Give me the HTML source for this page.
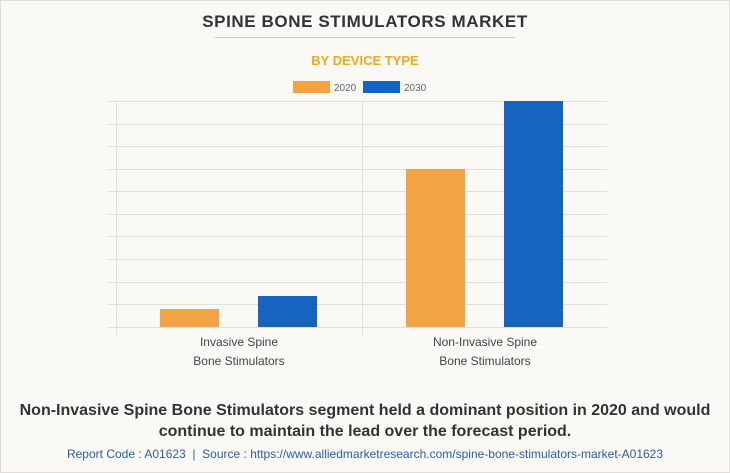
<!DOCTYPE html>
<html><head><style>
body{margin:0;background:#fff;}
.w{position:relative;width:728px;height:471px;border:1px solid #ddd;background:#faf9f5;font-family:"Liberation Sans",sans-serif;overflow:hidden}
.t{position:absolute;left:0;width:728px;text-align:center}
</style></head><body><div class="w">
<div class="t" style="top:11px;font-size:17px;font-weight:bold;color:#333;letter-spacing:0.6px">SPINE BONE STIMULATORS MARKET</div>
<div style="position:absolute;left:214px;top:36px;width:300px;height:1px;background:#ccc"></div>
<div class="t" style="top:52px;font-size:13px;font-weight:bold;color:#f5a623">BY DEVICE TYPE</div>
<svg style="position:absolute;left:-1px;top:-1px" width="730" height="473">
<rect x="293" y="81" width="37" height="12" fill="#f2a444"/>
<text x="334" y="91" font-size="10" fill="#666" font-family="Liberation Sans">2020</text>
<rect x="363" y="81" width="37" height="12" fill="#1565c0"/>
<text x="404" y="91" font-size="10" fill="#666" font-family="Liberation Sans">2030</text>
<g stroke="#e0e0dc" stroke-width="1">
<line x1="108" x2="607" y1="101.5" y2="101.5"/><line x1="108" x2="607" y1="124.5" y2="124.5"/>
<line x1="108" x2="607" y1="146.5" y2="146.5"/><line x1="108" x2="607" y1="169.5" y2="169.5"/>
<line x1="108" x2="607" y1="191.5" y2="191.5"/><line x1="108" x2="607" y1="214.5" y2="214.5"/>
<line x1="108" x2="607" y1="236.5" y2="236.5"/><line x1="108" x2="607" y1="259.5" y2="259.5"/>
<line x1="108" x2="607" y1="282.5" y2="282.5"/><line x1="108" x2="607" y1="304.5" y2="304.5"/>
<line x1="108" x2="607" y1="327.5" y2="327.5"/>
<line x1="116.5" x2="116.5" y1="101" y2="335"/><line x1="362.5" x2="362.5" y1="101" y2="335"/>
</g>
<rect x="160" y="309" width="59" height="18" fill="#f2a444"/>
<rect x="258" y="296" width="59" height="31" fill="#1565c0"/>
<rect x="406" y="169" width="59" height="158" fill="#f2a444"/>
<rect x="504" y="101" width="59" height="226" fill="#1565c0"/>
<g font-family="Liberation Sans" font-size="12" fill="#444" text-anchor="middle">
<text x="239" y="346">Invasive Spine</text><text x="239" y="365">Bone Stimulators</text>
<text x="485" y="346">Non-Invasive Spine</text><text x="485" y="365">Bone Stimulators</text>
</g>
</svg>
<div class="t" style="top:399px;font-size:16px;font-weight:bold;color:#333;line-height:21px">Non-Invasive Spine Bone Stimulators segment held a dominant position in 2020 and would<br>continue to maintain the lead over the forecast period.</div>
<div class="t" style="top:446px;font-size:12px;color:#2a5db0">Report Code : A01623 &nbsp;|&nbsp; Source : https://www.alliedmarketresearch.com/spine-bone-stimulators-market-A01623</div>
</div></body></html>
